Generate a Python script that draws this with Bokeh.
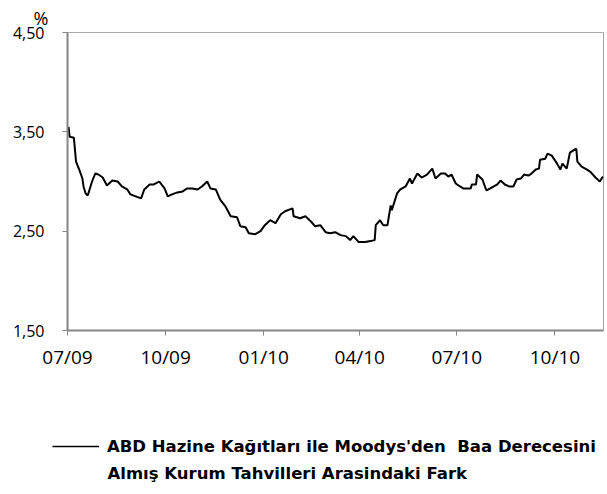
import pandas as pd
from bokeh.plotting import figure
from bokeh.layouts import column, row
from bokeh.models import (FixedTicker, DatetimeTickFormatter, Range1d, Title,
                          Legend, LegendItem, Label)
from bokeh.embed import file_html
from bokeh.resources import INLINE

# ---- data ----
dates = [
    "2009-07-02", "2009-07-03", "2009-07-07", "2009-07-09", "2009-07-12", "2009-07-15",
    "2009-07-16", "2009-07-18", "2009-07-20", "2009-07-22", "2009-07-24", "2009-07-27",
    "2009-07-30", "2009-08-03", "2009-08-07", "2009-08-12", "2009-08-17", "2009-08-21",
    "2009-08-26", "2009-08-29", "2009-09-03", "2009-09-08", "2009-09-11", "2009-09-16",
    "2009-09-20", "2009-09-25", "2009-09-30", "2009-10-03", "2009-10-07", "2009-10-12",
    "2009-10-17", "2009-10-21", "2009-10-26", "2009-10-31", "2009-11-04", "2009-11-09",
    "2009-11-12", "2009-11-17", "2009-11-21", "2009-11-26", "2009-12-01", "2009-12-07",
    "2009-12-10", "2009-12-15", "2009-12-18", "2009-12-24", "2009-12-29", "2010-01-02",
    "2010-01-07", "2010-01-12", "2010-01-17", "2010-01-21", "2010-01-28", "2010-01-29",
    "2010-02-04", "2010-02-09", "2010-02-14", "2010-02-18", "2010-02-23", "2010-02-28",
    "2010-03-04", "2010-03-09", "2010-03-14", "2010-03-19", "2010-03-23", "2010-03-26",
    "2010-03-31", "2010-04-06", "2010-04-11", "2010-04-15", "2010-04-16", "2010-04-20",
    "2010-04-23", "2010-04-27", "2010-04-28", "2010-04-30", "2010-05-01", "2010-05-06",
    "2010-05-09", "2010-05-14", "2010-05-18", "2010-05-20", "2010-05-25", "2010-05-29",
    "2010-06-03", "2010-06-08", "2010-06-11", "2010-06-16", "2010-06-20", "2010-06-23",
    "2010-06-26", "2010-06-30", "2010-07-04", "2010-07-07", "2010-07-14", "2010-07-15",
    "2010-07-19", "2010-07-20", "2010-07-25", "2010-07-28", "2010-07-29", "2010-08-03",
    "2010-08-08", "2010-08-11", "2010-08-15", "2010-08-19", "2010-08-23", "2010-08-26",
    "2010-08-30", "2010-09-02", "2010-09-06", "2010-09-09", "2010-09-13", "2010-09-16",
    "2010-09-17", "2010-09-22", "2010-09-24", "2010-09-28", "2010-10-03", "2010-10-06",
    "2010-10-08", "2010-10-12", "2010-10-15", "2010-10-18", "2010-10-21", "2010-10-22",
    "2010-10-26", "2010-10-31", "2010-11-03", "2010-11-08", "2010-11-12", "2010-11-15",
]
spread = [
    3.55, 3.45, 3.44, 3.20, 3.12, 3.03,
    2.95, 2.88, 2.86, 2.93, 3.00, 3.08,
    3.07, 3.04, 2.96, 3.01, 3.00, 2.95,
    2.92, 2.87, 2.85, 2.83, 2.92, 2.97,
    2.97, 3.00, 2.93, 2.85, 2.87, 2.89,
    2.90, 2.93, 2.93, 2.92, 2.95, 3.00,
    2.93, 2.92, 2.82, 2.75, 2.65, 2.64,
    2.55, 2.54, 2.48, 2.47, 2.50, 2.56,
    2.61, 2.58, 2.67, 2.70, 2.73, 2.65,
    2.63, 2.65, 2.60, 2.55, 2.56, 2.49,
    2.48, 2.49, 2.46, 2.45, 2.41, 2.45,
    2.39, 2.39, 2.40, 2.41, 2.56, 2.61,
    2.56, 2.56, 2.63, 2.76, 2.71, 2.88,
    2.92, 2.95, 3.03, 2.98, 3.08, 3.04,
    3.07, 3.13, 3.03, 3.08, 3.08, 3.05,
    3.07, 2.98, 2.95, 2.93, 2.93, 2.97,
    2.97, 3.07, 3.02, 2.93, 2.91, 2.94,
    2.97, 3.01, 2.97, 2.95, 2.95, 3.02,
    3.03, 3.07, 3.06, 3.08, 3.12, 3.13,
    3.22, 3.23, 3.28, 3.26, 3.18, 3.12,
    3.18, 3.13, 3.29, 3.31, 3.33, 3.20,
    3.15, 3.12, 3.10, 3.04, 3.00, 3.05,
]
x_tick_dates = ["2009-07-01", "2009-10-01", "2010-01-01", "2010-04-01", "2010-07-01", "2010-10-01"]
y_ticks = [1.5, 2.5, 3.5, 4.5]
y_tick_labels = ["1,50", "2,50", "3,50", "4,50"]
x_start, x_end = "2009-07-01", "2010-11-15 12:00"
unit_label = "%"
series_line1 = "ABD Hazine Kağıtları ile Moodys'den  Baa Derecesini"
series_line2 = "Almış Kurum  Tahvilleri Arasindaki  Fark"

x = pd.to_datetime(dates)
AXIS = "#868686"
FONT = "Open Sans"
LFONT = "DejaVu Sans"

p = figure(width=607, height=420, output_backend="svg", toolbar_location=None,
           x_axis_type="datetime",
           x_range=Range1d(pd.Timestamp(x_start), pd.Timestamp(x_end)),
           y_range=Range1d(1.5, 4.5),
           min_border_left=67, min_border_right=4, min_border_top=30, min_border_bottom=90)
p.xgrid.visible = False
p.ygrid.visible = False
p.outline_line_color = "#a6a6a6"
p.outline_line_width = 1

r = p.line(x, spread, line_color="black", line_width=2)

# y axis
p.yaxis.ticker = FixedTicker(ticks=y_ticks)
p.yaxis.major_label_overrides = dict(zip(y_ticks, y_tick_labels))
p.yaxis.minor_tick_line_color = None
p.yaxis.major_tick_in = 0
p.yaxis.major_tick_out = 5
p.yaxis.major_label_standoff = 18
p.yaxis.axis_line_color = AXIS
p.yaxis.axis_line_width = 2
p.yaxis.major_tick_line_color = AXIS
p.yaxis.major_label_text_font = FONT
p.yaxis.major_label_text_font_size = "16px"
p.yaxis.major_label_text_color = "black"

# x axis
tick_ms = [pd.Timestamp(d).value / 1e6 for d in x_tick_dates]
p.xaxis.ticker = FixedTicker(ticks=tick_ms)
fmt = "%m/%y"
p.xaxis.formatter = DatetimeTickFormatter(
    microseconds=fmt, milliseconds=fmt, seconds=fmt, minsec=fmt, minutes=fmt,
    hourmin=fmt, hours=fmt, days=fmt, months=fmt, years=fmt)
p.xaxis.minor_tick_line_color = None
p.xaxis.major_tick_in = 0
p.xaxis.major_tick_out = 5
p.xaxis.major_label_standoff = 8
p.xaxis.axis_line_color = AXIS
p.xaxis.axis_line_width = 2
p.xaxis.major_tick_line_color = AXIS
p.xaxis.major_label_text_font = FONT
p.xaxis.major_label_text_font_size = "19px"
p.xaxis.major_label_text_color = "black"

# unit label above the y axis
p.add_layout(Title(text=unit_label, align="left", offset=-34, standoff=6,
                   text_font=FONT, text_font_size="18px", text_font_style="normal",
                   text_color="black"), "above")

# ---- legend strip below the chart ----
lg = figure(width=607, height=74, output_backend="svg", toolbar_location=None,
            x_range=Range1d(0, 1), y_range=Range1d(0, 1),
            x_axis_location=None, y_axis_location=None,
            min_border=0, min_border_left=0, min_border_right=0,
            min_border_top=0, min_border_bottom=0)
lg.grid.visible = False
lg.outline_line_color = None
key = lg.line([float("nan")], [float("nan")], line_color="black", line_width=1.5)

legend = Legend(items=[LegendItem(label=series_line1, renderers=[key])],
                location=(52, 38), orientation="vertical",
                border_line_alpha=0, background_fill_alpha=0,
                padding=0, margin=0, glyph_width=47, glyph_height=20,
                label_standoff=8, label_text_font=LFONT,
                label_text_font_style="bold", label_text_font_size="16.5px",
                label_text_color="black")
lg.add_layout(legend, "center")
lg.add_layout(Label(x=107, y=21, x_units="screen", y_units="screen", text=series_line2,
                    text_font=LFONT, text_font_style="bold", text_font_size="16.5px",
                    text_baseline="middle", text_color="black"))

open("out.html", "w").write(file_html(column(p, row(lg), spacing=0), INLINE))
